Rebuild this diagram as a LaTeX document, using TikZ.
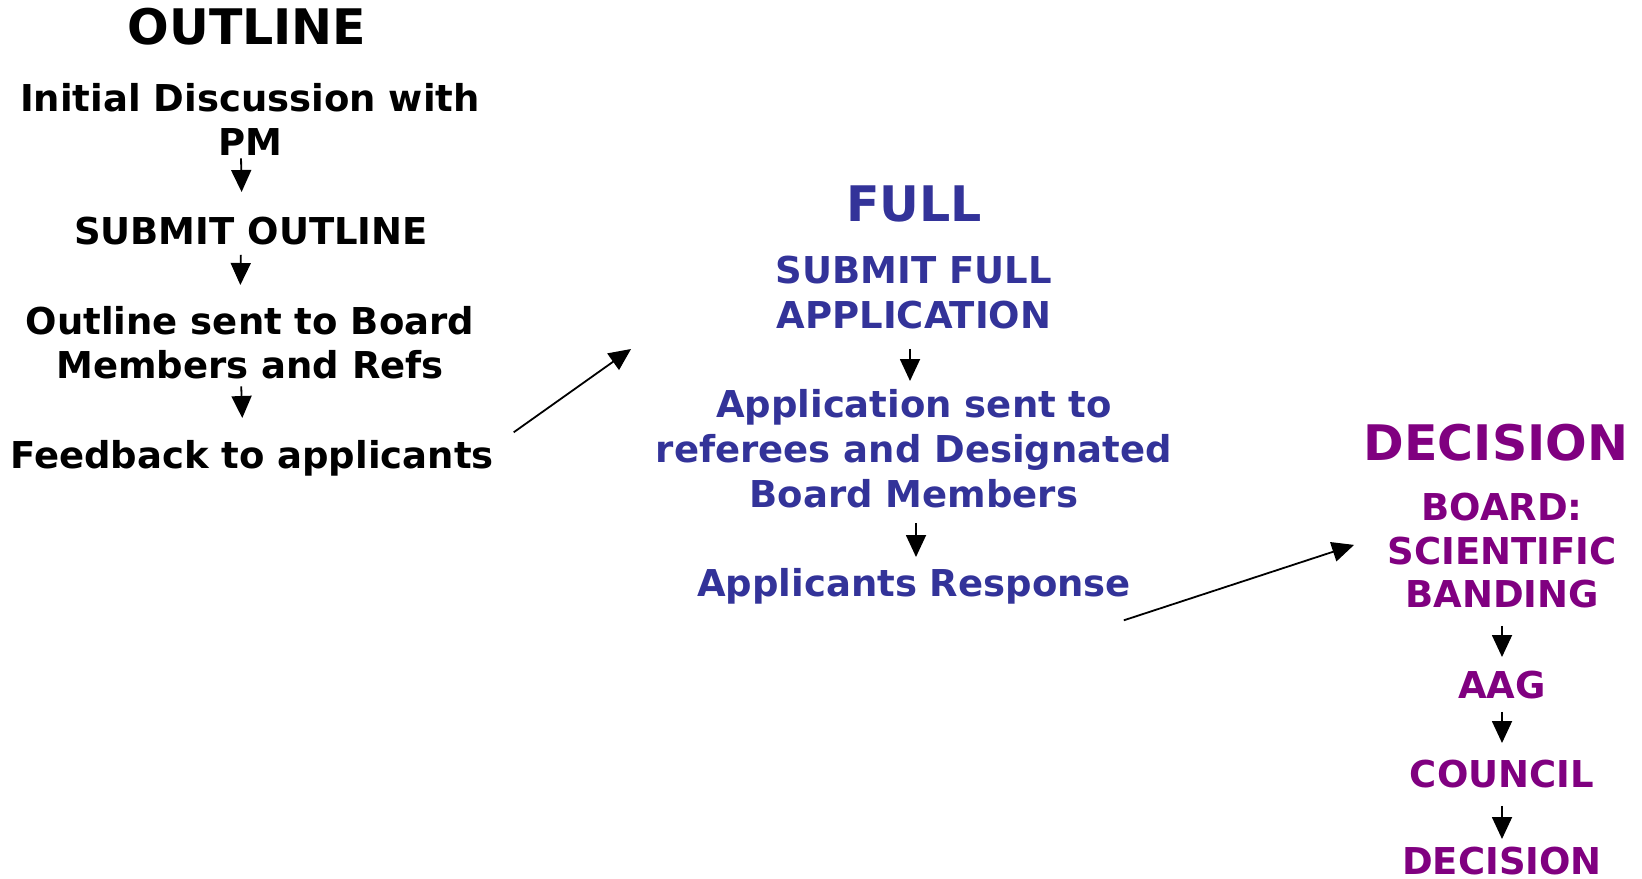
\documentclass[tikz,border=0pt]{standalone}
\usepackage{fontspec}
\setmainfont{DejaVu Sans}
\usetikzlibrary{arrows.meta}
\definecolor{fullblue}{HTML}{333399}
\definecolor{decpurple}{HTML}{800080}

\begin{document}
\begin{tikzpicture}[x=0.5pt,y=-0.5pt,
  txt/.style={anchor=north,inner sep=0pt,align=center,font=\fontsize{18.5}{22}\selectfont\bfseries},
  mid/.style={font=\fontsize{18.5}{22.5}\selectfont\bfseries},
  tight/.style={font=\fontsize{18.5}{21.75}\selectfont\bfseries},
  head/.style={anchor=north,inner sep=0pt,font=\fontsize{24.5}{29}\selectfont\bfseries},
  full/.style={text=fullblue},
  dec/.style={text=decpurple},
  flow/.style={-{Triangle[length=11pt,width=10pt]},line width=0.9pt}]
\useasboundingbox (0,0) rectangle (1642,878);
%\draw[help lines] (0,0) grid (1642,878);
% outline
\node[head] (outl) at (247,8) {OUTLINE};
\node[txt,tight] (init) at (250,83) {Initial Discussion with\\PM};
\node[txt] (sub) at (251,217) {SUBMIT OUTLINE};
\node[txt] (sent) at (250,306) {Outline sent to Board\\Members and Refs};
\node[txt] (feed) at (252,440) {Feedback to applicants};
\draw[flow,shorten <=1.5pt,shorten >=12.5pt] ([xshift=-4.5pt]init.south) -- ([xshift=-4.5pt]sub.north);
\draw[flow,shorten <=4.5pt,shorten >=10.5pt] ([xshift=-5pt]sub.south) -- ([xshift=-5pt]sent.north);
\draw[flow,shorten <=3.5pt,shorten >=11pt] ([xshift=-4.5pt]sent.south) -- ([xshift=-4.5pt]feed.north);
% full
\node[head,full] (fullh) at (914,185) {FULL};
\node[txt,mid,full] (subfull) at (914,256) {SUBMIT FULL\\APPLICATION};
\node[txt,mid,full] (appsent) at (914,389) {Application sent to\\referees and Designated\\Board Members};
\node[txt,full] (resp) at (914,568) {Applicants Response};
\draw[flow,shorten <=9.5pt,shorten >=4pt] ([xshift=-2pt]subfull.south) -- ([xshift=-2pt]appsent.north);
\draw[flow,shorten <=7.5pt,shorten >=5.5pt] ([xshift=1pt]appsent.south) -- ([xshift=1pt]resp.north);
% decision
\node[head,dec] (dech) at (1496,424) {DECISION};
\node[txt,tight,dec] (board) at (1502,493) {BOARD:\\SCIENTIFIC\\BANDING};
\node[txt,dec] (aag) at (1502,671) {AAG};
\node[txt,dec] (council) at (1502,760) {COUNCIL};
\node[txt,dec] (final) at (1502,847) {DECISION};
\draw[flow,shorten <=8.5pt,shorten >=7pt] (board.south) -- (aag.north);
\draw[flow,shorten <=6pt,shorten >=8.5pt] (aag.south) -- (council.north);
\draw[flow,shorten <=8.5pt,shorten >=4pt] (council.south) -- (final.north);
% links between stages
\coordinate (toFull) at ([xshift=-12.25pt,yshift=20pt]appsent.north west);
\coordinate (toDec) at ([xshift=-16.5pt,yshift=3pt]board.west);
\draw[flow] ([xshift=9.75pt,yshift=13pt]feed.east) -- (toFull);
\draw[flow] ([xshift=-3.75pt,yshift=-17pt]resp.east) -- (toDec);
\end{tikzpicture}
\end{document}
